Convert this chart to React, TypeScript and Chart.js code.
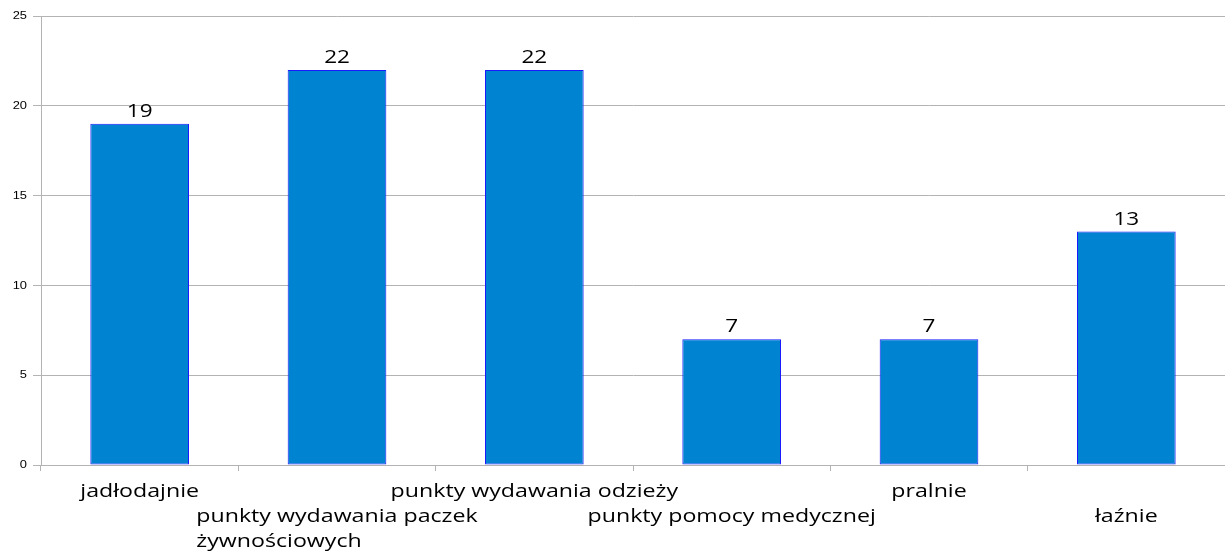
import React, { useEffect, useRef } from "react";
import { Chart, registerables } from "chart.js";

Chart.register(...registerables);

const categories: string[] = [
  "jadłodajnie",
  "punkty wydawania paczek\nżywnościowych",
  "punkty wydawania odzieży",
  "punkty pomocy medycznej",
  "pralnie",
  "łaźnie",
];
const values: number[] = [19, 22, 22, 7, 7, 13];
const yTicks: number[] = [0, 5, 10, 15, 20, 25];

function stretchedText(ctx: any, text: string, x: number, y: number, sx: number) {
  ctx.save();
  ctx.translate(x, y);
  ctx.scale(sx, 1);
  ctx.fillText(text, 0, 0);
  ctx.restore();
}

const textPlugin = {
  id: "textPlugin",
  afterDraw(chart: any) {
    const ctx = chart.ctx;
    const xs = chart.scales.x;
    const ys = chart.scales.y;
    const meta = chart.getDatasetMeta(0);
    ctx.save();
    ctx.fillStyle = "#000000";

    // value labels
    ctx.font = "18px 'Open Sans'";
    ctx.textAlign = "center";
    ctx.textBaseline = "alphabetic";
    meta.data.forEach((bar: any, i: number) => {
      stretchedText(ctx, String(values[i]), bar.x, bar.y - 7, 1.25);
    });

    // y tick labels
    ctx.font = "11.5px 'Liberation Sans'";
    ctx.textAlign = "right";
    ctx.textBaseline = "middle";
    yTicks.forEach((v) => {
      stretchedText(ctx, String(v), 27, ys.getPixelForValue(v), 1.12);
    });

    // category labels (staggered)
    const sx = 1.22;
    ctx.font = "19px 'Open Sans'";
    ctx.textAlign = "left";
    ctx.textBaseline = "alphabetic";
    categories.forEach((label, i) => {
      const lines = label.split("\n");
      const cx = xs.getPixelForValue(i);
      const maxW = Math.max(...lines.map((l) => ctx.measureText(l).width)) * sx;
      const left = cx - maxW / 2;
      const row0 = i % 2 === 0 ? 0 : 1;
      lines.forEach((line, j) => {
        stretchedText(ctx, line, left, 497 + 25 * (row0 + j), sx);
      });
    });
    ctx.restore();
  },
};

export default function App() {
  const ref = useRef<HTMLCanvasElement>(null);
  useEffect(() => {
    if (!ref.current) return;
    const chart = new Chart(ref.current, {
      type: "bar",
      data: {
        labels: categories,
        datasets: [
          {
            data: values,
            backgroundColor: "#0084d1",
            borderColor: "#1a1aff",
            borderWidth: 1,
            borderSkipped: false,
            categoryPercentage: 0.5,
            barPercentage: 1,
          },
        ],
      },
      options: {
        responsive: false,
        animation: false,
        layout: { padding: { top: 16, right: 0, left: 0, bottom: 0 } },
        plugins: {
          legend: { display: false },
          tooltip: { enabled: false },
        },
        scales: {
          x: {
            offset: true,
            afterFit: (s: any) => {
              s.height = 87;
            },
            grid: {
              offset: true,
              drawOnChartArea: false,
              drawTicks: true,
              tickLength: 6,
              color: "#b3b3b3",
            },
            border: { color: "#b3b3b3" },
            ticks: {
              display: true,
              autoSkip: false,
              maxRotation: 0,
              minRotation: 0,
              color: "rgba(0,0,0,0)",
              font: { size: 1 },
            },
          },
          y: {
            min: 0,
            max: 25,
            afterFit: (s: any) => {
              s.width = 41;
            },
            afterBuildTicks: (s: any) => {
              s.ticks = yTicks.map((v) => ({ value: v }));
            },
            grid: { color: "#b3b3b3", tickLength: 8 },
            border: { color: "#b3b3b3" },
            ticks: {
              padding: 6,
              color: "rgba(0,0,0,0)",
              font: { family: "'Liberation Sans'", size: 11 },
            },
          },
        },
      },
      plugins: [textPlugin],
    });
    return () => chart.destroy();
  }, []);
  return (
    <div style={{ position: "absolute", left: 0, top: 0, width: 1225, height: 552, background: "#fff" }}>
      <canvas ref={ref} width={1225} height={552} />
    </div>
  );
}
